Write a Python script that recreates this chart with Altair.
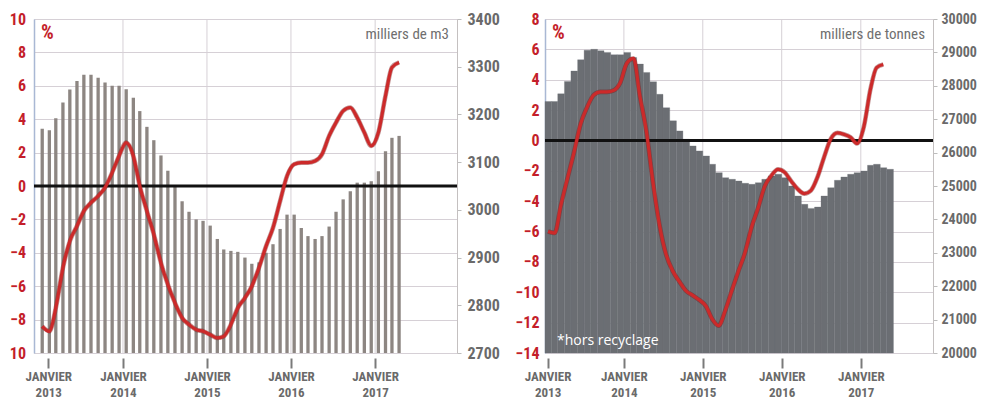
import altair as alt
import pandas as pd

# ---------------- data ----------------
FIRST_MONTH = "2013-01-01"

# left panel : milliers de m3 (bars) and % (red line), Jan 2013 -> Apr 2017
left_stock = [3170, 3167, 3192, 3225, 3252, 3270, 3283, 3283, 3277, 3267, 3260, 3260,
              3253, 3235, 3207, 3174, 3146, 3114, 3082, 3050, 3018, 2996, 2980, 2977,
              2967, 2939, 2917, 2914, 2912, 2900, 2887, 2890, 2910, 2928, 2960, 2990,
              2990, 2962, 2945, 2939, 2945, 2965, 2996, 3022, 3039, 3057, 3057, 3060,
              3081, 3123, 3151, 3155]
left_pct = [-8.4, -8.7, -7.3, -4.9, -3.3, -2.4, -1.5, -1.0, -0.6, -0.1, 0.8, 1.8,
            2.6, 1.8, 0.0, -1.5, -2.9, -4.6, -5.9, -7.0, -7.9, -8.3, -8.6, -8.7,
            -8.9, -9.1, -9.0, -8.3, -7.3, -6.7, -6.0, -4.9, -3.6, -2.5, -0.9, 0.6,
            1.3, 1.4, 1.4, 1.5, 1.9, 3.0, 3.8, 4.5, 4.7, 4.1, 3.2, 2.4,
            3.2, 5.4, 7.1, 7.4]

# right panel : milliers de tonnes (bars) and % (red line)
right_stock = [27530, 27530, 27760, 28130, 28443, 28780, 29065, 29092, 29050, 29000, 28930, 28930,
               29000, 28850, 28650, 28400, 28120, 27745, 27344, 26950, 26650, 26400, 26200, 26050,
               25900, 25650, 25400, 25250, 25200, 25150, 25080, 25050, 25100, 25200, 25300, 25350,
               25250, 25000, 24700, 24450, 24330, 24370, 24700, 24950, 25170, 25270, 25350, 25400,
               25450, 25620, 25650, 25550, 25500]
right_pct = [-6.0, -6.1, -4.3, -2.5, -0.8, 1.1, 2.2, 3.0, 3.2, 3.2, 3.3, 3.8,
             5.1, 5.4, 3.0, 0.6, -2.7, -5.6, -7.5, -8.6, -9.3, -9.9, -10.2, -10.5,
             -10.9, -11.8, -12.2, -11.2, -9.9, -8.6, -7.4, -5.7, -4.4, -3.0, -2.3, -1.9,
             -2.1, -2.7, -3.2, -3.5, -3.3, -2.4, -1.1, 0.1, 0.5, 0.4, 0.2, -0.2,
             0.9, 3.4, 4.8, 5.0]

year_lines = ["2014-01-01", "2015-01-01", "2016-01-01", "2017-01-01"]
left_ticks = ["2013-02-10", "2014-01-01", "2015-01-01", "2016-01-01", "2017-01-01"]
right_ticks = ["2013-01-13", "2014-01-01", "2015-01-01", "2016-01-01", "2017-01-01"]

# ---------------- styles ----------------
FONT = "Roboto Condensed"
RED = "#c41e2a"
LINE_RED = "#cc2a2a"
GRAY_TXT = "#6a6a6a"
GRID = "#d6d0d6"


def make_df(stock, pct):
    st = pd.date_range(FIRST_MONTH, periods=len(stock), freq="MS")
    df = pd.DataFrame({
        "start": st,
        "end": st + pd.offsets.MonthBegin(1),
        "mid": st + pd.Timedelta(days=14),
        "stock": stock,
    })
    st2 = pd.date_range(FIRST_MONTH, periods=len(pct), freq="MS")
    dfp = pd.DataFrame({"mid": st2 + pd.Timedelta(days=14), "pct": pct})
    return df, dfp


def dt(v):
    return alt.DateTime(year=int(v[:4]), month=int(v[5:7]), date=int(v[8:]))


def xaxis(tick_values):
    return alt.Axis(
        values=[dt(v) for v in tick_values],
        labelExpr="['JANVIER', timeFormat(datum.value, '%Y')]",
        grid=False, domain=False, title=None, labelOverlap=False,
        tickSize=10, tickWidth=2, tickColor="#7a7a7a", offset=5,
        labelFont=FONT, labelFontSize=13, labelFontWeight="bold", labelColor=GRAY_TXT,
        labelLineHeight=16, labelPadding=2, labelBaseline="top",
    )


def panel(stock, pct, pct_dom, pct_vals, stock_dom, stock_step, w, h,
          tick_values, unit_text, bar_mode, pct_label_expr, r_font, r_pad, l_pad, foot=None):
    df, dfp = make_df(stock, pct)
    xscale = alt.Scale(domain=[alt.DateTime(year=2013, month=1, date=1),
                               alt.DateTime(year=2017, month=12, date=1)])
    xax = xaxis(tick_values)

    vgrid = alt.Chart(pd.DataFrame({"d": pd.to_datetime(year_lines)})).mark_rule(
        color=GRID, strokeWidth=1).encode(x=alt.X("d:T", scale=xscale, axis=xax))

    yst = alt.Y("stock:Q", scale=alt.Scale(domain=stock_dom, zero=False, nice=False),
                axis=alt.Axis(orient="right", title=None, grid=False, labelOverlap=False,
                              values=list(range(stock_dom[0], stock_dom[1] + 1, stock_step)),
                              tickSize=4, tickColor="#bdbdbd", domainColor="#c4c0c0",
                              labelPadding=r_pad, labelFont=FONT, labelFontSize=r_font,
                              labelFontWeight="bold", labelColor=GRAY_TXT, format="d"))
    if bar_mode == "thin":
        bars = alt.Chart(df).mark_bar(width=3.3, color="#8d8682").encode(
            x=alt.X("mid:T", scale=xscale, axis=xax),
            y=yst, y2=alt.datum(stock_dom[0]))
    else:
        bars = alt.Chart(df).mark_bar(color="#6b6e73", stroke="#6b6e73", strokeWidth=0.3).encode(
            x=alt.X("start:T", scale=xscale, axis=xax),
            x2="end:T",
            y=yst, y2=alt.datum(stock_dom[0]))

    back = alt.layer(vgrid, bars)

    ypct_axis = alt.Axis(orient="left", title=None, values=pct_vals, grid=True,
                         gridColor=GRID, gridWidth=1.2, tickSize=0, labelOverlap=False,
                         domainColor="#a9b8d4", domainWidth=1.5,
                         labelPadding=l_pad, labelFont=FONT, labelFontSize=16,
                         labelFontWeight="bold", labelColor=RED,
                         labelExpr=pct_label_expr)
    pscale = alt.Scale(domain=pct_dom, nice=False, zero=False)

    zero = alt.Chart(pd.DataFrame({"pct": [0]})).mark_rule(
        color="#111111", strokeWidth=3).encode(
        y=alt.Y("pct:Q", scale=pscale, axis=ypct_axis))

    shadow = alt.Chart(dfp).mark_line(color="#7a1616", strokeWidth=4.6, opacity=0.45,
                                      interpolate="monotone").encode(
        x=alt.X("mid:T", scale=xscale, axis=xax), y=alt.Y("pct:Q", scale=pscale, axis=ypct_axis))
    line = alt.Chart(dfp).mark_line(color=LINE_RED, strokeWidth=3.2,
                                    interpolate="monotone").encode(
        x=alt.X("mid:T", scale=xscale, axis=xax), y=alt.Y("pct:Q", scale=pscale, axis=ypct_axis))

    pct_txt = alt.Chart(pd.DataFrame({"t": ["%"]})).mark_text(
        font=FONT, fontSize=20, fontWeight="bold", color=RED, align="left",
        baseline="middle").encode(text="t:N", x=alt.value(7), y=alt.value(14))
    unit = alt.Chart(pd.DataFrame({"t": [unit_text]})).mark_text(
        font=FONT, fontSize=15, color="#6f6f6f", align="right",
        baseline="middle").encode(text="t:N", x=alt.value(w - 8), y=alt.value(15))
    fronts = [zero, shadow, line, pct_txt, unit]
    if foot:
        fronts.append(alt.Chart(pd.DataFrame({"t": [foot]})).mark_text(
            font="Open Sans", fontSize=14, color="white", align="left",
            baseline="middle").encode(text="t:N", x=alt.value(12), y=alt.value(322)))
    front = alt.layer(*fronts)

    return alt.layer(back, front).resolve_scale(y="independent").properties(width=w, height=h)


left = panel(left_stock, left_pct, [-10, 10], list(range(-10, 11, 2)), [2700, 3400], 100,
             423, 334, left_ticks, "milliers de m3", "thin",
             "datum.value == -10 ? '10' : datum.label", 16, 6, 8.5)
right = panel(right_stock, right_pct, [-14, 8], list(range(-14, 9, 2)), [20000, 30000], 1000,
              388, 334, right_ticks, "milliers de tonnes", "wide",
              "datum.label", 14, 4, 6, foot="*hors recyclage")

chart = alt.hconcat(left, right, spacing=14).properties(
    padding={"left": 0, "top": 2, "right": 0, "bottom": 0}
).configure_view(stroke=None).configure(background="white")

chart.save("out.html", embed_options={"renderer": "svg", "actions": False})
